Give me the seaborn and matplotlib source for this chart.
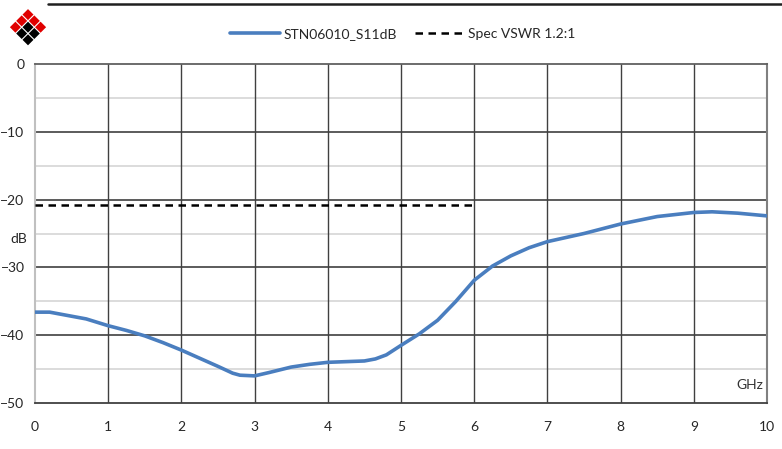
import numpy as np
import pandas as pd
import seaborn as sns
import matplotlib.pyplot as plt
from matplotlib.patches import Rectangle
from matplotlib.lines import Line2D
import matplotlib.transforms as mtransforms

# S11 readings
freq_ghz = [0.0, 0.2, 0.5, 0.7, 1.0, 1.25, 1.5, 1.75, 2.0, 2.25, 2.5, 2.7, 2.8, 3.0,
            3.2, 3.5, 3.75, 4.0, 4.25, 4.5, 4.65, 4.8, 4.9, 5.0, 5.25, 5.5, 5.75,
            6.0, 6.25, 6.5, 6.75, 7.0, 7.5, 8.0, 8.5, 9.0, 9.25, 9.6, 10.0]
s11_db = [-36.6, -36.6, -37.2, -37.6, -38.6, -39.3, -40.1, -41.1, -42.2, -43.4, -44.6,
          -45.6, -45.9, -46.0, -45.5, -44.7, -44.3, -44.0, -43.9, -43.8, -43.5, -42.9,
          -42.2, -41.5, -39.8, -37.8, -35.0, -31.9, -29.8, -28.3, -27.1, -26.2, -25.0,
          -23.6, -22.5, -21.9, -21.8, -22.0, -22.4]

spec_x = [0, 6]
spec_db = [-20.83, -20.83]

x_ticks = list(range(0, 11))
y_ticks = [0, -10, -20, -30, -40, -50]

df = pd.DataFrame({'GHz': freq_ghz, 'dB': s11_db})
spec = pd.DataFrame({'GHz': spec_x, 'dB': spec_db})

sns.set_style('white')
plt.rcParams['font.family'] = ['Lato', 'DejaVu Sans']
fs = 10

fig = plt.figure(figsize=(7.82, 4.49), dpi=100)
ax = fig.add_axes([35 / 782, 1 - 403 / 449, (767 - 35) / 782, (403 - 64) / 449])

# gridlines like the Excel chart
for y in [-5, -15, -25, -35, -45]:
    ax.axhline(y, color='#d9d9d9', lw=1.3, zorder=0)
for y in [-10, -20, -30, -40]:
    ax.axhline(y, color='#404040', lw=1.2, zorder=0)
for x in range(1, 10):
    ax.axvline(x, color='#404040', lw=1.0, zorder=0)

sns.lineplot(data=df, x='GHz', y='dB', ax=ax, color='#4a7ebf', lw=2.6, zorder=3)
sns.lineplot(data=spec, x='GHz', y='dB', ax=ax, color='black', lw=1.8,
             linestyle=(0, (3, 2.2)), zorder=3)

ax.set_xlim(0, 10)
ax.set_ylim(-50, 0)
ax.set_xticks(x_ticks)
ax.set_yticks(y_ticks)
ax.set_xlabel('')
ax.set_ylabel('')
ax.tick_params(axis='x', length=0, pad=13, labelsize=fs)
ax.tick_params(axis='y', length=2.5, width=1.2, color='#808080', labelsize=fs, pad=5)

ax.spines['left'].set_color('#c0c0c0')
ax.spines['left'].set_linewidth(1.5)
ax.spines['bottom'].set_color('#404040')
ax.spines['bottom'].set_linewidth(1.3)
ax.spines['top'].set_color('#606060')
ax.spines['top'].set_linewidth(1.3)
ax.spines['right'].set_color('#808080')
ax.spines['right'].set_linewidth(1.5)

ax.text(-0.011, -25.8, 'dB', transform=mtransforms.blended_transform_factory(ax.transAxes, ax.transData),
        ha='right', va='center', fontsize=fs)
ax.text(9.95, -47.4, 'GHz', ha='right', va='center', fontsize=fs, color='#333333')

handles = [Line2D([], [], color='#4a7ebf', lw=2.6),
           Line2D([], [], color='black', lw=1.8, linestyle=(0, (3, 2.2)))]
fig.legend(handles, ['STN06010_S11dB', 'Spec VSWR 1.2:1'], loc='center',
           bbox_to_anchor=(0.515, 0.924), ncol=2, frameon=False, fontsize=fs,
           handlelength=3.6, handletextpad=0.2, columnspacing=1.3)

# top rule
fig.add_artist(Line2D([48 / 782, 1], [1 - 4 / 449, 1 - 4 / 449], color='#202020', lw=1.8))

# diamond logo: 3x3 squares rotated 45 deg
colors = {(0, 0): '#e00000', (1, 0): '#e00000', (0, 1): '#e00000',
          (2, 0): '#e00000', (1, 1): '#000000', (0, 2): '#e00000',
          (2, 1): '#000000', (1, 2): '#000000', (2, 2): '#000000'}
step, side = 6.3, 7.8
for (i, j), c in colors.items():
    px = 28 + (j - i) * step
    py = 14.6 + (i + j) * step
    t = mtransforms.Affine2D().rotate_deg_around(px, 449 - py, 45)
    r = Rectangle((px - side / 2, 449 - py - side / 2), side, side, facecolor=c, edgecolor='none',
                  transform=t + mtransforms.Affine2D().scale(1 / 782, 1 / 449) + fig.transFigure)
    fig.add_artist(r)

fig.savefig('out.png', dpi=100)
